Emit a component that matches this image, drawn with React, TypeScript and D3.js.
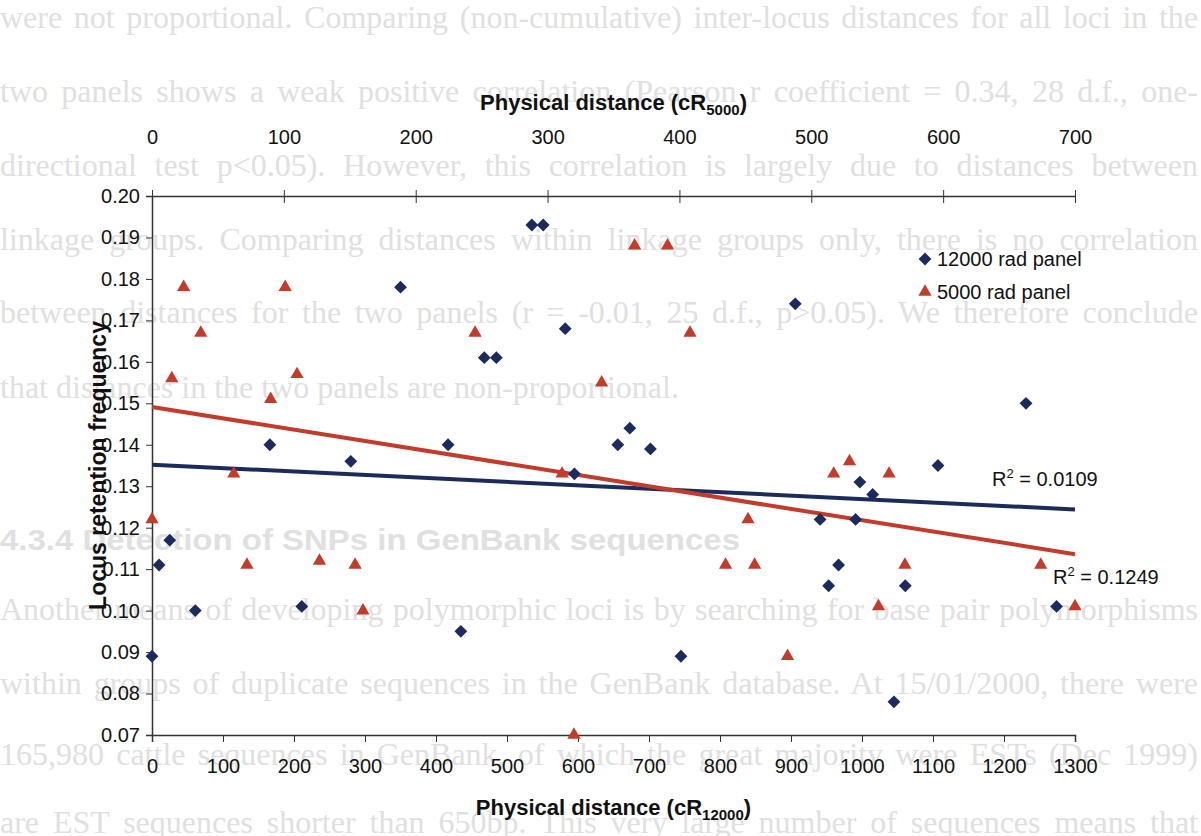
import React from "react";
import * as d3 from "d3";

// 12000 rad panel, x on bottom axis (cR12000)
const rad12000X = [0, 10, 25, 61, 166, 211, 280, 350, 417, 435, 468, 485, 535, 551, 582, 595, 656, 673, 702, 745, 906, 941, 953, 967, 991, 997, 1015, 1045, 1061, 1107, 1231, 1274];
const rad12000Y = [0.089, 0.111, 0.117, 0.1, 0.14, 0.101, 0.136, 0.178, 0.14, 0.095, 0.161, 0.161, 0.193, 0.193, 0.168, 0.133, 0.14, 0.144, 0.139, 0.089, 0.174, 0.122, 0.106, 0.111, 0.122, 0.131, 0.128, 0.078, 0.106, 0.135, 0.15, 0.101];

// 5000 rad panel, x on top axis (cR5000)
const rad5000X = [0, 15, 24, 37, 62, 72, 90, 101, 110, 127, 154, 160, 245, 311, 320, 341, 366, 391, 408, 435, 452, 457, 482, 517, 529, 551, 559, 571, 674, 700];
const rad5000Y = [0.122, 0.156, 0.178, 0.167, 0.133, 0.111, 0.151, 0.178, 0.157, 0.112, 0.111, 0.1, 0.167, 0.133, 0.07, 0.155, 0.188, 0.188, 0.167, 0.111, 0.122, 0.111, 0.089, 0.133, 0.136, 0.101, 0.133, 0.111, 0.111, 0.101];

// linear trend lines [intercept, slope]
const trend12000 = [0.1352, -0.0000083];
const trend5000 = [0.1491, -0.0000507];
const r2Labels = ["0.0109", "0.1249"];

const bottomTicks = d3.range(0, 1301, 100);
const topTicks = d3.range(0, 701, 100);
const yTicks = d3.range(0.07, 0.2001, 0.01);

const seriesNames = ["12000 rad panel", "5000 rad panel"];

// faint page text behind the chart
const pageLines = [
    "were not proportional. Comparing (non-cumulative) inter-locus distances for all loci in the",
    "two panels shows a weak positive correlation (Pearson r coefficient = 0.34, 28 d.f., one-",
    "directional test p<0.05). However, this correlation is largely due to distances between",
    "linkage groups. Comparing distances within linkage groups only, there is no correlation",
    "between distances for the two panels (r = -0.01, 25 d.f., p>0.05). We therefore conclude",
    "that distances in the two panels are non-proportional.",
];
const pageHeading = "4.3.4 Detection of SNPs in GenBank sequences";
const pageLines2 = [
    "Another means of developing polymorphic loci is by searching for base pair polymorphisms",
    "within groups of duplicate sequences in the GenBank database. At 15/01/2000, there were",
    "165,980 cattle sequences in GenBank, of which the great majority were ESTs (Dec 1999)",
    "are EST sequences shorter than 650bp. This very large number of sequences means that",
];

const BLUE = "#1c2b5e";
const RED = "#c23b2b";
const FONT = "Liberation Sans, Arial, sans-serif";
const PAGE_GREY = "#e0e0e0";

export default function App() {
    const ref = React.useRef(null);

    React.useEffect(() => {
        d3.select(ref.current).selectAll("*").remove();
        drawChart();
    });

    // fit a line of page text to the page width
    function justify(sel, w) {
        const node = sel.node();
        const natural = node.getComputedTextLength();
        const spaces = (sel.text().match(/ /g) || []).length;
        if (natural > w) {
            sel.attr("textLength", w).attr("lengthAdjust", "spacingAndGlyphs");
        } else if (spaces > 0) {
            sel.attr("word-spacing", (w - natural) / spaces);
        }
    }

    function drawChart() {
        const width = 1201;
        const height = 836;

        const svg = d3
            .select(ref.current)
            .attr("width", width)
            .attr("height", height)
            .style("font-family", FONT);

        svg.append("rect").attr("width", width).attr("height", height).attr("fill", "white");

        // background document text
        const bg = svg.append("g").attr("fill", PAGE_GREY).style("font-family", "Liberation Serif, Times New Roman, serif").attr("font-size", 32);
        const lineY = [28, 102, 176, 250, 323, 398];
        pageLines.forEach((t, i) => {
            const tx = bg.append("text").attr("x", 0).attr("y", lineY[i]).text(t);
            if (i < pageLines.length - 1) justify(tx, 1198);
        });
        bg.append("text")
            .attr("x", 0)
            .attr("y", 550)
            .style("font-family", FONT)
            .attr("font-weight", "bold")
            .attr("font-size", 30)
            .attr("textLength", 740)
            .attr("lengthAdjust", "spacingAndGlyphs")
            .text(pageHeading);
        const line2Y = [620, 694, 765, 833];
        pageLines2.forEach((t, i) => {
            const tx = bg.append("text").attr("x", 0).attr("y", line2Y[i]).text(t);
            justify(tx, 1198);
        });

        const xBottom = d3.scaleLinear().domain([0, 1300]).range([152, 1075]);
        const xTop = d3.scaleLinear().domain([0, 700]).range([152, 1075]);
        const y = d3.scaleLinear().domain([0.07, 0.2]).range([735, 196]);

        const axisColor = "#333";

        // left axis
        const gy = svg
            .append("g")
            .attr("transform", `translate(${xBottom(0)},0)`)
            .call(d3.axisLeft(y).tickValues(yTicks).tickFormat(d3.format(".2f")).tickSize(6).tickPadding(6));

        // bottom axis
        const gx = svg
            .append("g")
            .attr("transform", `translate(0,${y(0.07)})`)
            .call(d3.axisBottom(xBottom).tickValues(bottomTicks).tickFormat(d3.format("d")).tickSize(7).tickPadding(17));

        // top axis: labels far above the line, ticks crossing the line
        const gt = svg
            .append("g")
            .attr("transform", `translate(0,${y(0.2)})`)
            .call(d3.axisTop(xTop).tickValues(topTicks).tickFormat(d3.format("d")).tickSize(0).tickPadding(52));
        gt.selectAll(".tick")
            .append("line")
            .attr("y1", -6)
            .attr("y2", 7)
            .attr("stroke", axisColor);

        [gy, gx, gt].forEach((g) => {
            g.select(".domain").attr("stroke", axisColor).attr("stroke-width", 1.5);
            g.selectAll(".tick line").attr("stroke", axisColor);
            g.selectAll(".tick text").attr("font-size", 20).attr("fill", "#111").style("font-family", FONT);
        });

        const plotMid = (xBottom(0) + xBottom(1300)) / 2;

        // axis titles
        const bt = svg
            .append("text")
            .attr("x", plotMid)
            .attr("y", 815)
            .attr("text-anchor", "middle")
            .attr("font-weight", "bold")
            .attr("font-size", 22)
            .attr("fill", "#111");
        bt.append("tspan").text("Physical distance (cR");
        bt.append("tspan").attr("font-size", 15).attr("dy", 5).text("12000");
        bt.append("tspan").attr("dy", -5).text(")");

        const tt = svg
            .append("text")
            .attr("x", plotMid)
            .attr("y", 110)
            .attr("text-anchor", "middle")
            .attr("font-weight", "bold")
            .attr("font-size", 22)
            .attr("fill", "#111");
        tt.append("tspan").text("Physical distance (cR");
        tt.append("tspan").attr("font-size", 15).attr("dy", 5).text("5000");
        tt.append("tspan").attr("dy", -5).text(")");

        svg.append("text")
            .attr("transform", `translate(106,${(y(0.07) + y(0.2)) / 2}) rotate(-90)`)
            .attr("text-anchor", "middle")
            .attr("font-weight", "bold")
            .attr("font-size", 23)
            .attr("fill", "#111")
            .text("Locus retention frequency");

        // trend lines
        const line12000 = [0, 1300].map((v) => [xBottom(v), y(trend12000[0] + trend12000[1] * v)]);
        const line5000 = [0, 700].map((v) => [xTop(v), y(trend5000[0] + trend5000[1] * v)]);
        svg.append("path").attr("d", d3.line()(line12000)).attr("stroke", BLUE).attr("stroke-width", 4).attr("fill", "none");
        svg.append("path").attr("d", d3.line()(line5000)).attr("stroke", RED).attr("stroke-width", 4).attr("fill", "none");

        const diamond = d3.symbol().type(d3.symbolSquare).size(82)();
        const triangle = d3.symbol().type(d3.symbolTriangle).size(76)();

        svg.append("g")
            .selectAll("path")
            .data(rad12000X.map((v, i) => [v, rad12000Y[i]]))
            .enter()
            .append("path")
            .attr("d", diamond)
            .attr("fill", BLUE)
            .attr("transform", (d) => `translate(${xBottom(d[0])},${y(d[1])}) rotate(45)`);

        svg.append("g")
            .selectAll("path")
            .data(rad5000X.map((v, i) => [v, rad5000Y[i]]))
            .enter()
            .append("path")
            .attr("d", triangle)
            .attr("fill", RED)
            .attr("transform", (d) => `translate(${xTop(d[0])},${y(d[1])})`);

        // R squared labels
        const r2Pos = [
            [992, 486],
            [1053, 584],
        ];
        r2Labels.forEach((v, i) => {
            const t = svg
                .append("text")
                .attr("x", r2Pos[i][0])
                .attr("y", r2Pos[i][1])
                .attr("font-size", 20)
                .attr("fill", "#111");
            t.append("tspan").text("R");
            t.append("tspan").attr("font-size", 13).attr("dy", -8).text("2");
            t.append("tspan").attr("dy", 8).text(" = " + v);
        });

        // legend
        const legend = svg.append("g").attr("transform", "translate(925,259)");
        seriesNames.forEach((name, i) => {
            const row = legend.append("g").attr("transform", `translate(0,${i * 33})`);
            row.append("path")
                .attr("d", i === 0 ? diamond : triangle)
                .attr("fill", i === 0 ? BLUE : RED)
                .attr("transform", i === 0 ? "rotate(45)" : "");
            row.append("text")
                .attr("x", 12)
                .attr("y", 7)
                .attr("font-size", 20)
                .attr("fill", "#111")
                .text(name);
        });
    }

    return <svg ref={ref} style={{ position: "absolute", left: 0, top: 0, display: "block" }} />;
}
